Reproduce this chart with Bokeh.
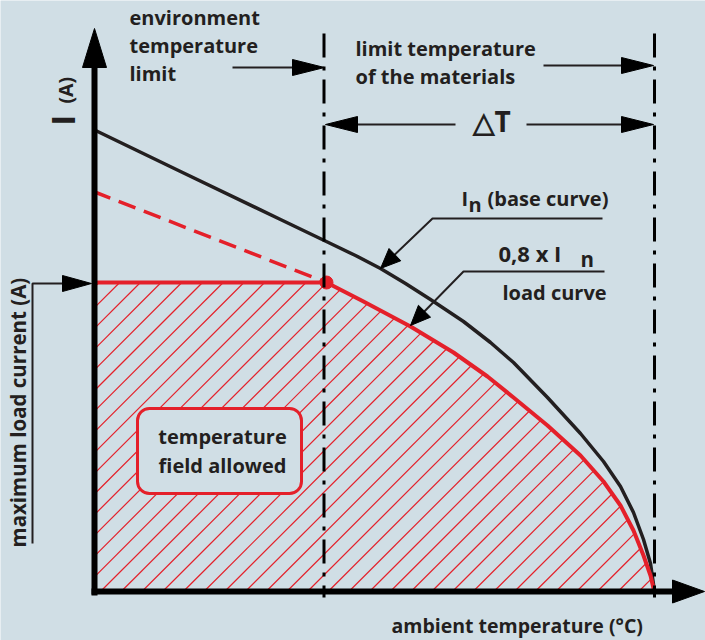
import numpy as np
from bokeh.plotting import figure
from bokeh.models import Range1d, Label, BoxAnnotation
from bokeh.embed import file_html
from bokeh.resources import INLINE

# ---- data (x: ambient temperature units, y: current units; origin = axes corner) ----
base_t = [0, 87, 187, 237, 262, 287, 312, 337, 370, 397, 420, 454, 487, 510, 527, 540, 550, 557, 560, 561]
base_i = [463, 421, 373, 349, 337, 324, 309, 293, 271, 250, 230, 195, 159, 131, 106, 80, 53, 29, 8, 0]
load_t = [233, 270, 317, 360, 394, 420, 454, 487, 510, 527, 540, 550, 557, 561]
load_i = [310, 291, 266, 240, 216, 195, 167, 137, 111, 87, 62, 37, 17, 0]
extrap_t = [0, 233]
extrap_i = [401, 310]
max_load_i = 310
env_limit_t = 230.5
mat_limit_t = 561

# ---- styles ----
BG = "#d0dee5"
RED = "#e4202a"
INK = "#231f20"
BLACK = "#000000"
FONT = "Open Sans"

p = figure(width=705, height=640, x_range=Range1d(-93, 612), y_range=Range1d(-48, 592),
           output_backend="svg", toolbar_location=None, min_border=0,
           x_axis_location=None, y_axis_location=None)
p.grid.visible = False
p.outline_line_color = None
p.background_fill_color = BG
p.border_fill_color = BG

# ---- hatching of the allowed field ----
HATCH_STEP = 20.7
HATCH_PHASE = 6.0


def region_top(t):
    if t <= load_t[0]:
        return max_load_i
    return float(np.interp(t, load_t, load_i))


hx0, hy0, hx1, hy1 = [], [], [], []
c = HATCH_PHASE - HATCH_STEP * np.ceil((max_load_i + HATCH_PHASE) / HATCH_STEP)
while c < mat_limit_t:
    xs = max(c, 0.0)
    ys = xs - c
    if ys < region_top(xs):
        lo, hi = xs, float(mat_limit_t)
        for _ in range(60):
            mid = (lo + hi) / 2
            if mid - c < region_top(mid):
                lo = mid
            else:
                hi = mid
        hx0.append(xs); hy0.append(ys); hx1.append(lo); hy1.append(lo - c)
    c += HATCH_STEP
p.segment(hx0, hy0, hx1, hy1, line_color=RED, line_width=1.2)

# ---- curves ----
p.line(extrap_t, extrap_i, line_color=RED, line_width=3.5, line_dash="18 9")
p.line(base_t, base_i, line_color=INK, line_width=3.5, line_join="round")
p.line([0, load_t[0]], [max_load_i, max_load_i], line_color=RED, line_width=4)
p.line(load_t, load_i, line_color=RED, line_width=4, line_join="round")
p.scatter([load_t[0]], [max_load_i], size=13, color=RED)

# limit lines (dash-dot)
p.line([env_limit_t, env_limit_t], [559, -5], line_color=BLACK, line_width=3, line_dash="24 9 4 9")
p.line([mat_limit_t, mat_limit_t], [559, -5], line_color=BLACK, line_width=3, line_dash="24 9 4 9")

# axes
p.line([1, 1], [-3, 527], line_color=BLACK, line_width=6)
p.line([-2, 582], [1, 1], line_color=BLACK, line_width=6)

heads_x, heads_y = [], []


def head(tip, direction, length, width):
    tx, ty = tip
    dx, dy = direction
    n = np.hypot(dx, dy)
    ux, uy = dx / n, dy / n
    bx, by = tx - ux * length, ty - uy * length
    ox, oy = -uy * width / 2, ux * width / 2
    heads_x.append([tx, bx + ox, bx - ox])
    heads_y.append([ty, by + oy, by - oy])


head((1, 564), (0, 1), 39, 24)
head((611, 1), (1, 0), 32, 23)

# leader arrows
LW = 2
p.line([139, 225], [525, 525], line_color=INK, line_width=LW)
head((231, 525), (1, 0), 32, 16)
p.line([450, 555], [527, 527], line_color=INK, line_width=LW)
head((560, 527), (1, 0), 32, 16)
p.line([362, 238], [468, 468], line_color=INK, line_width=LW)
head((232, 468), (-1, 0), 32, 16)
p.line([433, 555], [468, 468], line_color=INK, line_width=LW)
head((560, 468), (1, 0), 32, 16)
p.line([509, 339, 292], [374, 374, 329], line_color=INK, line_width=LW)
head((287, 324), (-52, -50), 20, 17)
p.line([511, 370, 322], [321, 321, 272], line_color=INK, line_width=LW)
head((317, 267), (-53, -54), 20, 17)
p.line([-61, -61, -8], [49, 309, 309], line_color=INK, line_width=LW)
head((-2, 309), (1, 0), 29, 16)

p.patches(heads_x, heads_y, fill_color=BLACK, line_color=BLACK, line_width=1)

# ---- label box ----
box = BoxAnnotation(left=44, right=208, bottom=99, top=184, fill_color=BG, fill_alpha=1,
                    line_color=RED, line_width=3, line_alpha=1, border_radius=12)
p.add_layout(box)

K = 0.35  # baseline correction (fraction of font size)


def lab(x, y, text, size, align="left", angle=0.0, shift=None):
    s = K * size if shift is None else shift
    if angle == 0.0:
        y = y + s
    else:
        x = x - s
    p.add_layout(Label(x=x, y=y, text=text, text_font=FONT, text_font_style="bold",
                       text_font_size=f"{size}px", text_color=INK, text_align=align,
                       text_baseline="alphabetic", angle=angle))


FS = 20
lab(129, 149, "temperature", FS, align="center")
lab(129, 120, "field allowed", FS, align="center")

lab(36, 568, "environment", FS)
lab(36, 540, "temperature", FS)
lab(36, 512, "limit", FS)
lab(262, 537, "limit temperature", FS)
lab(262, 509, "of the materials", FS)
lab(379, 459, "\u25b3T", 28, shift=13)

lab(368, 387, "I", FS)
lab(375, 381, "n", FS)
lab(394, 387, "(base curve)", FS)
lab(405, 332, "0,8 x I", 22)
lab(487, 326, "n", 20.5)
lab(409, 293, "load curve", FS)

lab(-20, 467, "I", 32, angle=np.pi / 2)
lab(-21, 489, "(A)", 19.5, angle=np.pi / 2)
lab(-68, 45, "maximum load current (A)", 20.5, angle=np.pi / 2)
lab(298, -40, "ambient temperature (\u00b0C)", 19.5)

open("out.html", "w").write(file_html(p, INLINE))
